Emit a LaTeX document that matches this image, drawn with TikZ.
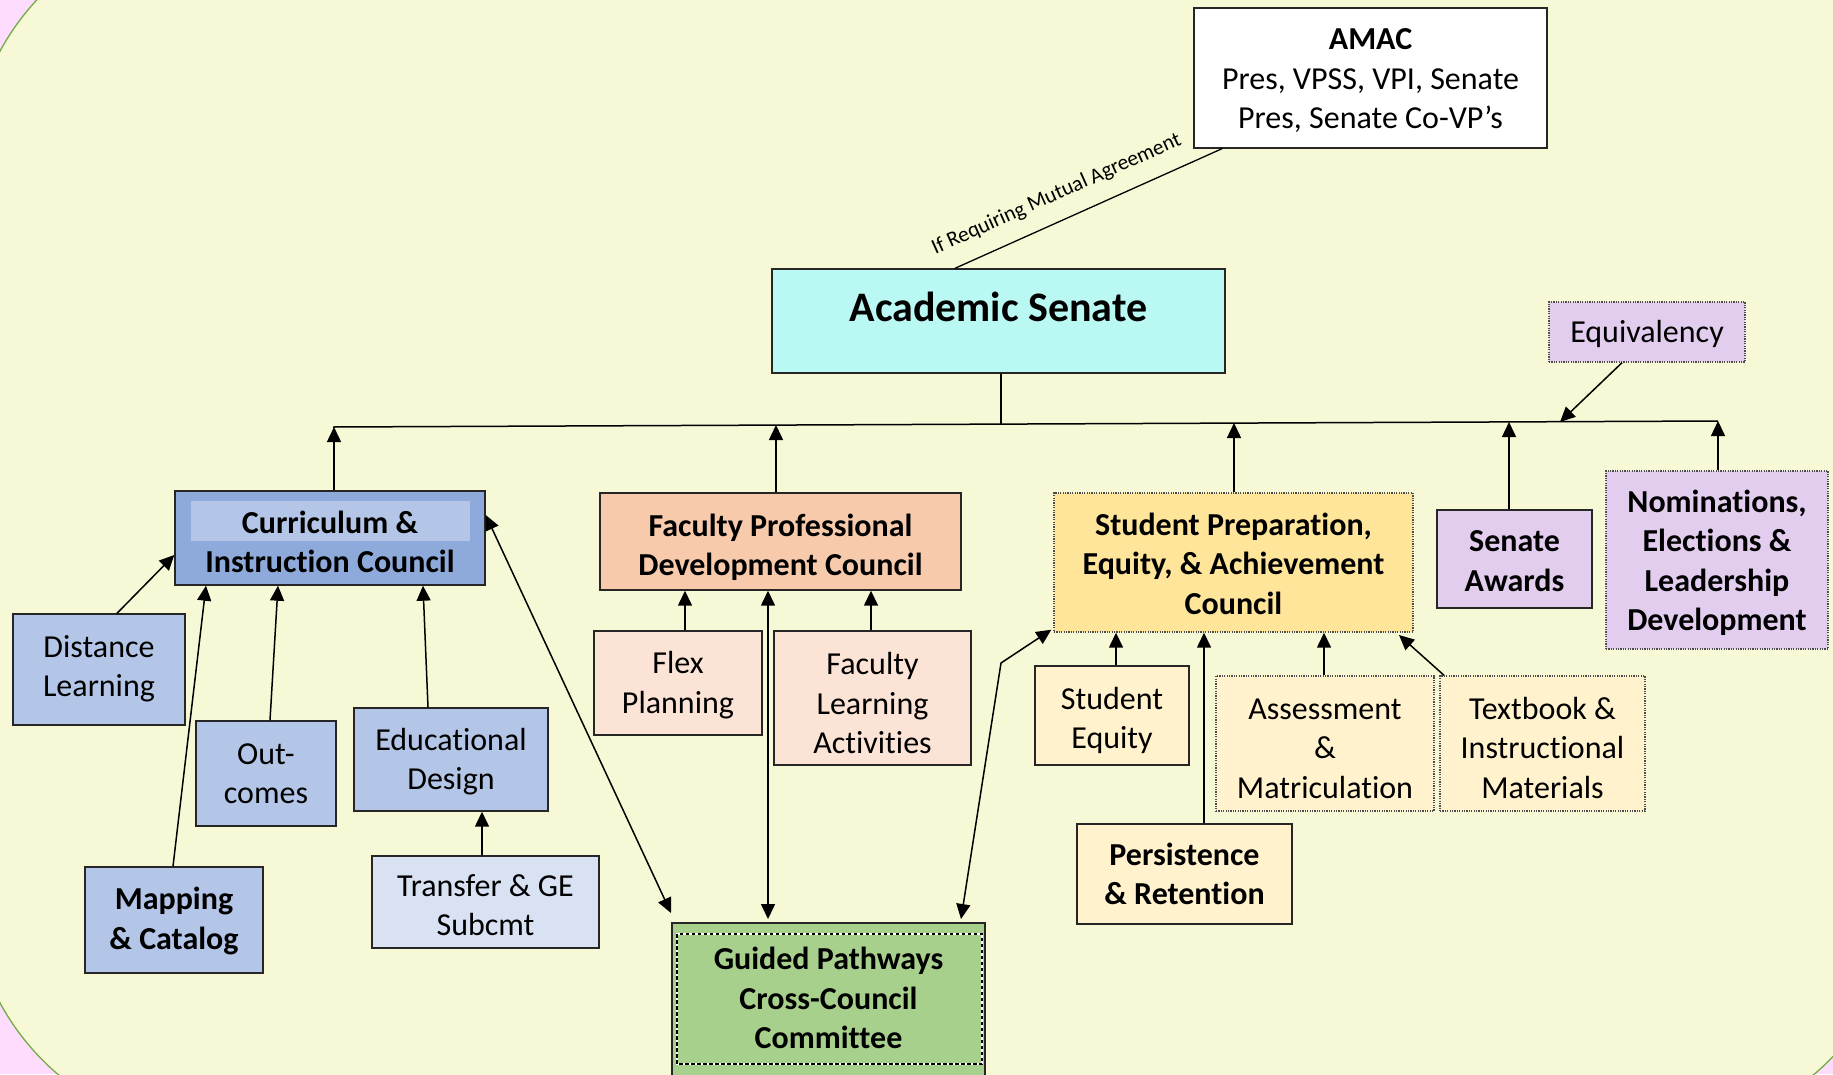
\documentclass[tikz,border=0pt]{standalone}
\usepackage{fontspec}
\setmainfont{Carlito}[Ligatures=NoCommon]
\usetikzlibrary{arrows.meta,calc}
\definecolor{bgy}{HTML}{F7F8D5}
\definecolor{pinkbg}{HTML}{FDDCFD}
\definecolor{greenb}{HTML}{70AD47}
\definecolor{senc}{HTML}{BAF9F3}
\definecolor{currc}{HTML}{8EAADB}
\definecolor{bluel}{HTML}{B4C6E7}
\definecolor{bluevl}{HTML}{D9E2F3}
\definecolor{orgc}{HTML}{F7CAAC}
\definecolor{orgl}{HTML}{FBE4D5}
\definecolor{yelc}{HTML}{FFE599}
\definecolor{yell}{HTML}{FFF2CC}
\definecolor{purc}{HTML}{E2CDEF}
\definecolor{grnc}{HTML}{A8D08D}
\tikzset{
 bx/.style={draw=black!85, line width=1.4pt, inner sep=0pt},
 dotbx/.style={bx, draw=black!70, dash pattern=on 1.2pt off 1.2pt},
 txt/.style={inner sep=0pt, align=center, font=\fontsize{32}{39.5}\selectfont, text=black},
 bold/.style={font=\fontsize{32}{39.5}\selectfont\bfseries},
 ln/.style={line width=1.5pt, draw=black},
 arr/.style={ln, -{Triangle[length=15pt,width=14pt]}},
 darr/.style={ln, {Triangle[length=15pt,width=14pt]}-{Triangle[length=15pt,width=14pt]}},
}
% [#1 text options] #2 box style, #3 name, #4 centre, #5 width, #6 height, #7 text, #8 text offset
\newcommand\bnode[8][]{%
 \node[#2, minimum width=#5pt, minimum height=#6pt] (#3) at #4 {};
 \node[txt,#1] (#3t) at ($(#3)+(0,#8)$) {#7};}
\begin{document}
\begin{tikzpicture}[x=1pt,y=-1pt]
\useasboundingbox (0,0) rectangle (1833,1074);
\clip (0,0) rectangle (1833,1074);
\fill[pinkbg] (0,0) rectangle (1833,1074);
\draw[fill=bgy, draw=greenb, line width=1.3pt, rounded corners=250pt] (-30,-80) rectangle (1902,1134);

% top
\bnode{bx, fill=white}{amac}{(1370.5,78)}{353}{140}{\textbf{AMAC}\\Pres, VPSS, VPI, Senate\\Pres, Senate Co-VP’s}{3}
\node[bx, fill=senc, minimum width=453pt, minimum height=104pt] (senate) at (998.5,321) {};
\node[txt, font=\fontsize{42}{50}\selectfont\bfseries] (sentxt) at (998.5,307) {Academic Senate};
\bnode{dotbx, fill=purc}{equiv}{(1647,332)}{196}{60}{Equivalency}{2}

% councils
\node[bx, fill=currc, minimum width=310pt, minimum height=94pt] (curr) at (330,538) {};
\fill[bluel] (191,501) rectangle (470,541);
\node[txt, bold] (currtxt) at (330,542) {Curriculum \&\\Instruction Council};
\bnode[bold]{bx, fill=orgc}{fac}{(780.5,541.5)}{361}{97}{Faculty Professional\\Development Council}{6}
\bnode[bold]{dotbx, fill=yelc}{sp}{(1233.5,562.5)}{359}{139}{Student Preparation,\\Equity, \& Achievement\\Council}{1}
\bnode[bold]{bx, fill=purc}{awards}{(1514.5,559)}{155}{98}{Senate\\Awards}{2}
\bnode[bold]{dotbx, fill=purc}{nom}{(1717,560)}{222}{178}{Nominations,\\Elections \&\\Leadership\\Development}{3}

% curriculum subcommittees
\bnode{bx, fill=bluel}{dist}{(99,669.5)}{172}{111}{Distance\\Learning}{-1}
\bnode{bx, fill=bluel}{out}{(266,773.5)}{140}{105}{Out-\\comes}{0}
\bnode{bx, fill=bluel}{ed}{(451,759.5)}{194}{103}{Educational\\Design}{2}
\bnode[bold]{bx, fill=bluel}{map}{(174,920)}{178}{106}{Mapping\\\& Catalog}{1}
\bnode{bx, fill=bluevl}{trans}{(485.5,902)}{227}{92}{Transfer \& GE\\Subcmt}{3}

% faculty subcommittees
\bnode{bx, fill=orgl}{flex}{(678,683)}{168}{104}{Flex\\Planning}{2}
\bnode{bx, fill=orgl}{fla}{(872.5,698)}{197}{134}{Faculty\\Learning\\Activities}{5}

% guided pathways
\node[bx, fill=grnc, line width=2pt, minimum width=313pt, minimum height=157pt] (gp) at (828.5,1001.5) {};
\draw[white, line width=1.3pt] (677,934) rectangle (982,1064);
\draw[black, line width=1.3pt, dash pattern=on 3.5pt off 2.5pt] (677,934) rectangle (982,1064);
\node[txt, bold] (gptxt) at (828.5,998) {Guided Pathways\\Cross-Council\\Committee};

% student prep subcommittees
\bnode{bx, fill=yell}{seq}{(1112,715.5)}{154}{99}{Student\\Equity}{5}
\bnode{dotbx, fill=yell}{assm}{(1325,743.5)}{218}{135}{Assessment\\\&\\Matriculation}{5}
\bnode{dotbx, fill=yell}{text}{(1542.5,743.5)}{205}{135}{Textbook \&\\Instructional\\Materials}{4}
\bnode[bold]{bx, fill=yell}{pers}{(1184.5,874)}{215}{100}{Persistence\\\& Retention}{0}

% bus
\coordinate (busL) at (333,427);
\coordinate (busR) at (1718,421);
\coordinate (b1) at (334,427);
\coordinate (b2) at (776,425);
\coordinate (bs) at (1001,424);
\coordinate (b3) at (1234,423);
\coordinate (b4) at (1509,422);
\coordinate (bq) at (1560,422);
\draw[ln] (busL) -- (busR);
\draw[ln] (senate.south -| 1001,0) -- (bs);

% AMAC link
\draw[ln, line width=1.3pt] (senate.north -| 955,0) -- (amac.south -| 1222,0)
  node[pos=0.42, sloped, above=16pt, inner sep=0pt, font=\fontsize{21.5}{24}\selectfont] (lbl) {If Requiring Mutual Agreement};

% councils up to bus
\draw[arr] (curr.north -| 334,0) -- (b1);
\draw[arr] (fac.north -| 776,0) -- (b2);
\draw[arr] (sp.north -| 1234,0) -- (b3);
\draw[arr] (awards.north -| 1509,0) -- (b4);
\draw[arr] (nom.north -| 1718,0) -- (busR);
\draw[arr] (equiv.south -| 1622,0) -- (bq);

% curriculum
\draw[arr] (dist.north -| 117,0) -- (curr.west |- 0,555);
\draw[arr] (map.north -| 173,0) -- (curr.south -| 206,0);
\draw[arr] (out.north -| 270,0) -- (curr.south -| 278,0);
\draw[arr] (ed.north -| 428,0) -- (curr.south -| 423,0);
\draw[arr] (trans.north -| 482,0) -- (ed.south -| 482,0);
\draw[darr] (curr.east |- 0,515) -- ($(gp.north west)+(0,-9)$);

% faculty
\draw[arr] (flex.north -| 685,0) -- (fac.south -| 685,0);
\draw[arr] (fla.north -| 871,0) -- (fac.south -| 871,0);
\draw[darr] (fac.south -| 768,0) -- ($(gp.north -| 768,0)+(0,-3)$);

% student prep
\coordinate (gpb) at (1001,663);
\draw[darr] ($(gp.north -| 961,0)+(0,-3)$) -- (gpb) -- ($(sp.south west)+(-2,-3)$);
\draw[arr] (seq.north -| 1116,0) -- (sp.south -| 1116,0);
\draw[arr] (pers.north -| 1204,0) -- (sp.south -| 1204,0);
\draw[arr] (assm.north -| 1324,0) -- (sp.south -| 1324,0);
\draw[arr] (text.north -| 1444,0) -- (1399,635);
\end{tikzpicture}
\end{document}
